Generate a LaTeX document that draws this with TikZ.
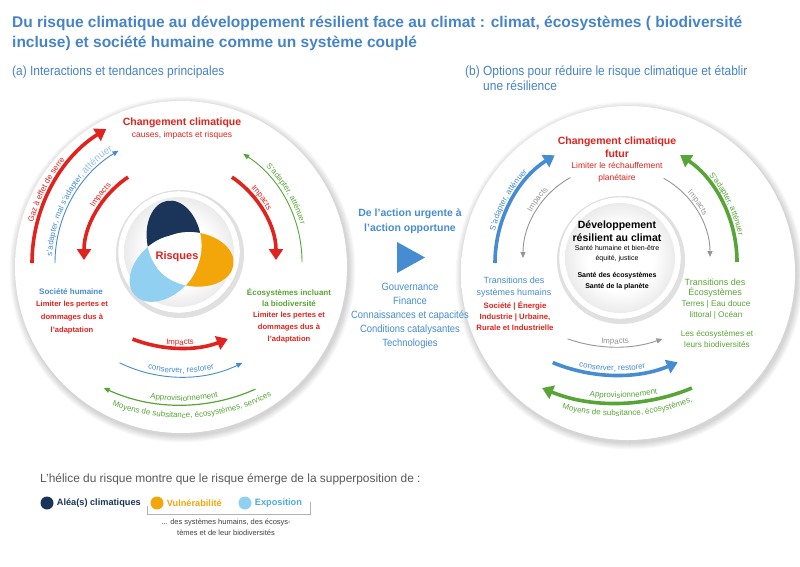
\documentclass[tikz,border=0pt]{standalone}
\usepackage{fontspec}
\setmainfont{Liberation Sans}
\newfontfamily\narrowfont{Liberation Sans}[FakeStretch=0.9]
\usetikzlibrary{arrows.meta,positioning,calc,decorations.text}

\definecolor{ttlblue}{RGB}{70,132,200}
\definecolor{ipred}{RGB}{225,35,30}
\definecolor{ipgreen}{RGB}{88,165,55}
\definecolor{ipblue}{RGB}{70,140,210}
\definecolor{ipnavy}{RGB}{27,53,90}
\definecolor{iporange}{RGB}{243,166,10}
\definecolor{iplight}{RGB}{145,208,240}
\definecolor{ipgray}{RGB}{150,150,150}
\definecolor{expblue}{RGB}{75,170,225}

\newcommand{\fsz}[2]{\fontsize{#1}{#2}\selectfont}
\newcommand{\arcfont}{\fontsize{8}{9.6}\selectfont}

\pgfdeclareradialshading{discfill}{\pgfpoint{0bp}{0bp}}{color(0bp)=(white); color(26bp)=(white); color(44bp)=(black!8); color(100bp)=(black!8)}
\pgfdeclareradialshading{hubfill}{\pgfpoint{0bp}{0bp}}{color(0bp)=(white); color(15bp)=(white); color(50bp)=(black!27); color(100bp)=(black!27)}

\begin{document}
\begin{tikzpicture}[x=1pt, y=1pt, node distance=3pt,
  lbl/.style={inner sep=0pt, align=center},
  bigarrow/.style={line width=3.6pt, -{Triangle[length=11pt, width=14pt]}},
  thinarrow/.style={line width=0.9pt, -{Triangle[length=6pt, width=5pt]}},
  arctext/.style 2 args={decorate, decoration={text along path, text align=center, text={|#1|#2}}},
  petal/.style={shift={(pr)}, rotate=#1},
  dot/.style={circle, inner sep=0pt, minimum size=13pt}]

  \useasboundingbox (0,0) rectangle (800,-566);
  \fill[white] (0,0) rectangle (800,-566);

  % titles
  \node[lbl, anchor=base west, font=\bfseries\fsz{15.5}{18}, text=ttlblue] (ttlA) at (12,-27)
       {Du risque climatique au développement résilient face au climat : climat, écosystèmes ( biodiversité};
  \node[lbl, anchor=base west, font=\bfseries\fsz{15.5}{18}, text=ttlblue] (ttlB) at (12,-47)
       {incluse) et société humaine comme un système couplé};
  \node[lbl, anchor=base west, font=\narrowfont\fsz{13.3}{15}, text=ttlblue] (subA) at (12,-75)
       {(a) Interactions et tendances principales};
  \node[lbl, anchor=base west, font=\narrowfont\fsz{13.3}{15}, text=ttlblue] (subB) at (465,-75)
       {(b) Options pour réduire le risque climatique et établir};
  \node[lbl, anchor=base west, font=\narrowfont\fsz{13.3}{15}, text=ttlblue] (subC) at (483,-90)
       {une résilience};

  % discs and hubs
  \coordinate (dL) at (181,-267);
  \coordinate (dR) at (628,-273);
  \foreach \c/\r in {dL/166, dR/167} {
    \foreach \k in {1,...,7} {
      \fill[black, opacity=0.022] ($(\c)+(1.5,-2.5)$) circle[radius=\r+\k];
    }
    \shade[shading=discfill] (\c) circle[radius=\r];
  }
  \coordinate (hL) at (179,-252);
  \coordinate (hR) at (620,-258);
  \foreach \c in {hL,hR} {
    \fill[black!12] ($(\c)+(1,-2)$) circle[radius=64];
    \fill[white] (\c) circle[radius=61];
    \draw[black!15, line width=0.4pt] (\c) circle[radius=61];
    \shade[shading=hubfill] (\c) circle[radius=55];
  }

  % risk propeller
  \coordinate (pr) at (177,-257);
  \fill[ipnavy, petal=100]  (17,0) ellipse[x radius=40, y radius=27];
  \fill[iporange, petal=-8] (17,0) ellipse[x radius=40, y radius=27];
  \fill[iplight, petal=222] (17,0) ellipse[x radius=40, y radius=27];
  \begin{scope}
    \clip[petal=100] (17,0) ellipse[x radius=40, y radius=27];
    \fill[white, petal=-8]  (17,0) ellipse[x radius=40, y radius=27];
    \fill[white, petal=222] (17,0) ellipse[x radius=40, y radius=27];
  \end{scope}
  \begin{scope}
    \clip[petal=-8] (17,0) ellipse[x radius=40, y radius=27];
    \fill[white, petal=222] (17,0) ellipse[x radius=40, y radius=27];
  \end{scope}
  \node[lbl, font=\bfseries\fsz{11}{13}, text=ipred] (risk) at (pr) {Risques};

  % left disc: labels
  \node[lbl, font=\bfseries\fsz{10.5}{13}, text=ipred] (lcc) at (182,-123) {Changement climatique};
  \node[lbl, font=\fsz{8.5}{10}, text=ipred] (lcs) at (182,-135) {causes, impacts et risques};
  \node[lbl, font=\bfseries\fsz{8}{10}, text=ipblue] (lsh) at (71,-292) {Société humaine};
  \node[lbl, font=\bfseries\fsz{7.6}{13}, text=ipred] (lsl) at (72,-318)
       {Limiter les pertes et\\dommages dus à\\l'adaptation};
  \node[lbl, font=\bfseries\fsz{8}{11}, text=ipgreen] (leco) at (289,-297)
       {Écosystèmes incluant\\la biodiversité};
  \node[lbl, font=\bfseries\fsz{7.6}{12}, text=ipred] (lel) at (289,-328)
       {Limiter les pertes et\\dommages dus à\\l'adaptation};

  % left disc: upper arcs
  \coordinate (gzc) at (190,-263);
  \draw[bigarrow, ipred] ($(gzc)+(180:158)$) arc[start angle=180, end angle=122, radius=158];
  \path[arctext={\arcfont\color{ipred}}{Gaz à effet de serre}]
       ($(gzc)+(176:162)$) arc[start angle=176, end angle=130, radius=162];
  \coordinate (sac) at (186,-263);
  \draw[thinarrow, ipblue] ($(sac)+(180:131)$) arc[start angle=180, end angle=121, radius=131];
  \path[arctext={\arcfont\color{ipblue}}{s'adapter, mal s'adapter, |\color{ipblue!55}|atténuer}]
       ($(sac)+(184:134)$) arc[start angle=184, end angle=116, radius=134];
  \coordinate (ilc) at (184,-260);
  \draw[bigarrow, ipred] ($(ilc)+(124:100)$) arc[start angle=124, end angle=180, radius=100];
  \path[arctext={\arcfont\color{ipred}}{Impacts}]
       ($(ilc)+(162:104)$) arc[start angle=162, end angle=122, radius=104];
  \coordinate (irc) at (176,-260);
  \draw[bigarrow, ipred] ($(irc)+(56:100)$) arc[start angle=56, end angle=0, radius=100];
  \path[arctext={\arcfont\color{ipred}}{Impacts}]
       ($(irc)+(56:104)$) arc[start angle=56, end angle=16, radius=104];
  \coordinate (grc) at (173,-262);
  \draw[thinarrow, ipgreen] ($(grc)+(0:129)$) arc[start angle=0, end angle=57, radius=129];
  \path[arctext={\arcfont\color{ipgreen}}{S'adapter, atténuer}]
       ($(grc)+(54:133)$) arc[start angle=54, end angle=8, radius=133];

  % left disc: lower arcs
  \coordinate (bic) at (180,-218);
  \draw[bigarrow, ipred] ($(bic)+(248.6:130)$) arc[start angle=248.6, end angle=291.6, radius=130];
  \path[arctext={\arcfont\color{ipred}}{Impacts}]
       ($(bic)+(252:127)$) arc[start angle=252, end angle=288, radius=127];
  \coordinate (bcc) at (181,-237);
  \draw[thinarrow, ipblue] ($(bcc)+(244:140)$) arc[start angle=244, end angle=296, radius=140];
  \path[arctext={\arcfont\color{ipblue}}{conserver, restorer}]
       ($(bcc)+(249:136)$) arc[start angle=249, end angle=291, radius=136];
  \coordinate (bac) at (181,-222);
  \draw[thinarrow, ipgreen, line width=1.2pt] ($(bac)+(294:183)$) arc[start angle=294, end angle=245, radius=183];
  \path[arctext={\arcfont\color{ipgreen}}{Approvisionnement}]
       ($(bac)+(255:179)$) arc[start angle=255, end angle=287, radius=179];
  \path[arctext={\arcfont\color{ipgreen}}{Moyens de subsitance, écosystèmes, services}]
       ($(bac)+(242:196)$) arc[start angle=242, end angle=305, radius=196];

  % middle: levers
  \node[lbl, font=\bfseries\fsz{10.5}{15}, text=ipblue] (act) at (410,-221)
       {De l'action urgente à\\l'action opportune};
  \fill[ipblue] (397,-242) -- (397,-273) -- (425,-257.5) -- cycle;
  \node[lbl, font=\narrowfont\fsz{10.5}{14.2}, text=ipblue] (levers) at (410,-316)
       {Gouvernance\\Finance\\Connaissances et capacités\\Conditions catalysantes\\Technologies};

  % right disc: labels
  \node[lbl, font=\bfseries\fsz{10.5}{13}, text=ipred] (rcc) at (617,-147) {Changement climatique\\futur};
  \node[lbl, font=\fsz{8.5}{12}, text=ipred] (rlim) at (617,-172) {Limiter le réchauffement\\planétaire};
  \node[lbl, font=\bfseries\fsz{10.5}{13}] (rdev) at (617,-231) {Développement\\résilient au climat};
  \node[lbl, font=\fsz{7}{10}] (rsan) at (617,-254) {Santé humaine et bien-être\\équité, justice};
  \node[lbl, font=\bfseries\fsz{7}{10.5}] (reco) at (617,-281) {Santé des écosystèmes\\Santé de la planète};
  \node[lbl, font=\fsz{9}{11.5}, text=ipblue] (rth) at (514,-287) {Transitions des\\systèmes humains};
  \node[lbl, font=\bfseries\fsz{7.8}{11}, text=ipred] (rts) at (515,-316)
       {Société | Énergie\\Industrie | Urbaine,\\Rurale et Industrielle};
  \node[lbl, font=\fsz{9}{10.5}, text=ipgreen] (rte) at (715,-288) {Transitions des\\Écosystèmes};
  \node[lbl, font=\fsz{8.2}{11}, text=ipgreen] (rtt) at (716,-310) {Terres | Eau douce\\littoral | Océan};
  \node[lbl, font=\fsz{8.2}{11}, text=ipgreen] (rle) at (717,-339) {Les écosystèmes et\\leurs biodiversités};

  % right disc: upper arcs
  \coordinate (rbc) at (622,-263);
  \draw[bigarrow, ipblue] ($(rbc)+(180:127)$) arc[start angle=180, end angle=122, radius=127];
  \path[arctext={\arcfont\color{ipblue}}{S'adapter, atténuer}]
       ($(rbc)+(174:131)$) arc[start angle=174, end angle=128, radius=131];
  \coordinate (rgl) at (615,-258);
  \draw[thinarrow, ipgray] ($(rgl)+(119:92)$) arc[start angle=119, end angle=180, radius=92];
  \path[arctext={\arcfont\color{ipgray}}{Impacts}]
       ($(rgl)+(160:95)$) arc[start angle=160, end angle=126, radius=95];
  \coordinate (rgr) at (620,-257);
  \draw[thinarrow, ipgray] ($(rgr)+(61:90)$) arc[start angle=61, end angle=0, radius=90];
  \path[arctext={\arcfont\color{ipgray}}{Impacts}]
       ($(rgr)+(52:93)$) arc[start angle=52, end angle=18, radius=93];
  \coordinate (rgc) at (608,-262);
  \draw[bigarrow, ipgreen] ($(rgc)+(0:129)$) arc[start angle=0, end angle=56, radius=129];
  \path[arctext={\arcfont\color{ipgreen}}{S'adapter, atténuer}]
       ($(rgc)+(49:133)$) arc[start angle=49, end angle=3, radius=133];

  % right disc: lower arcs
  \coordinate (rdi) at (615,-205);
  \draw[thinarrow, ipgray] ($(rdi)+(250.5:142)$) arc[start angle=250.5, end angle=289.5, radius=142];
  \path[arctext={\arcfont\color{ipgray}}{Impacts}]
       ($(rdi)+(256:139)$) arc[start angle=256, end angle=284, radius=139];
  \coordinate (rdc) at (615,-213);
  \draw[bigarrow, ipblue] ($(rdc)+(247.4:162)$) arc[start angle=247.4, end angle=292.8, radius=162];
  \path[arctext={\arcfont\color{ipblue}}{conserver, restorer}]
       ($(rdc)+(253:158)$) arc[start angle=253, end angle=285, radius=158];
  \coordinate (rda) at (617,-208);
  \draw[bigarrow, ipgreen] ($(rda)+(292.6:195)$) arc[start angle=292.6, end angle=247.4, radius=195];
  \path[arctext={\arcfont\color{ipgreen}}{Approvisionnement}]
       ($(rda)+(261:190)$) arc[start angle=261, end angle=283, radius=190];
  \path[arctext={\arcfont\color{ipgreen}}{Moyens de subsitance, écosystèmes,}]
       ($(rda)+(251:208)$) arc[start angle=251, end angle=295, radius=208];

  % legend
  \node[lbl, anchor=base west, font=\fsz{11.9}{13}, text=black!65] (lgtitle) at (40,-482)
       {L'hélice du risque montre que le risque émerge de la supperposition de :};
  \node[dot, fill=ipnavy] (dA) at (47,-503) {};
  \node[lbl, font=\bfseries\fsz{9.2}{11}, text=ipnavy, right=3pt of dA] (tA) {Aléa(s) climatiques};
  \node[dot, fill=iporange] (dV) at (157,-503) {};
  \node[lbl, font=\bfseries\fsz{9.2}{11}, text=iporange, right=3pt of dV] (tV) {Vulnérabilité};
  \node[dot, fill=iplight] (dE) at (245,-503) {};
  \node[lbl, font=\bfseries\fsz{9.2}{11}, text=expblue, right=3pt of dE] (tE) {Exposition};
  \coordinate (brA) at (147,-506);
  \coordinate (brB) at (310,-502);
  \draw[black!30, line width=0.5pt] (brA) |- ($(brB)+(0,-12)$) -- (brB);
  \node[lbl, font=\fsz{7.5}{11}, text=black!75] (lgnote) at (226,-527)
       {... des systèmes humains, des écosys-\\tèmes et de leur biodiversités};
\end{tikzpicture}
\end{document}
